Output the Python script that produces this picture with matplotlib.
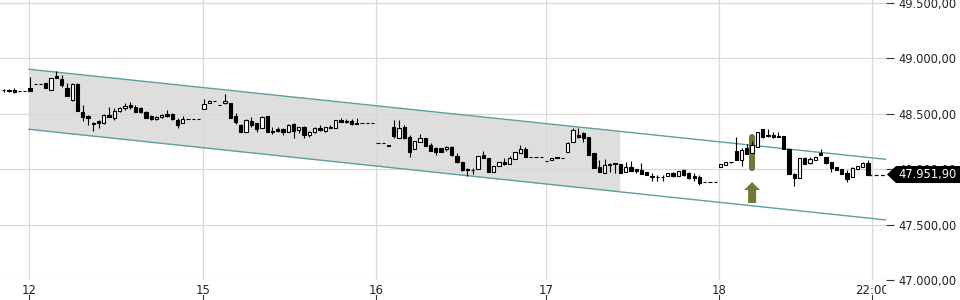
import matplotlib
matplotlib.use("Agg")
import matplotlib.pyplot as plt
import numpy as np
from matplotlib.patches import Polygon
from matplotlib import transforms

# ---------------- data ----------------
first_index = -5
opens = [
    48716, 48715, 48712, 48709, 48709,
    48730, 48769, 48769, 48775, 48712, 48841, 48811, 48736, 48625, 48769,
    48514, 48480, 48413, 48438, 48414, 48489, 48459, 48528, 48550, 48579,
    48564, 48550, 48519, 48480, 48453, 48468, 48495, 48498, 48447, 48414,
    48453, 48453, 48453, 48541, 48600, 48613, 48582, 48595, 48600, 48480,
    48399, 48338, 48435, 48414, 48369, 48480, 48347, 48360, 48360, 48338,
    48405, 48354, 48384, 48309, 48333, 48369, 48347, 48384, 48369, 48444,
    48438, 48435, 48420, 48414, 48414, 48414, 48239, 48239, 48218, 48384,
    48284, 48384, 48293, 48180, 48243, 48279, 48218, 48194, 48188, 48180,
    48203, 48122, 48062, 47999, 47997, 48002, 48128, 48098, 47972, 48032,
    48068, 48044, 48092, 48143, 48182, 48107, 48107, 48107, 48077, 48083,
    48107, 48098, 48158, 48243, 48309, 48324, 48293, 48149, 48023, 47968,
    48047, 48053, 48044, 47972, 48023, 48002, 47993, 47972, 47939, 47929,
    47931, 47941, 47963, 47941, 47993, 47963, 47939, 47927, 47887, 47887,
    47887, 48023, 48038, 48068, 48164, 48083, 48188, 48143, 48203, 48360,
    48309, 48309, 48300, 48300, 48180, 47954, 47918, 48098, 48059, 48083,
    48143, 48113, 48062, 48017, 48000, 47963, 47927, 48000, 48023, 48059,
]
highs = [
    48728, 48724, 48730, 48709, 48709,
    48835, 48769, 48769, 48775, 48826, 48886, 48850, 48775, 48775, 48775,
    48579, 48489, 48423, 48444, 48495, 48564, 48550, 48559, 48600, 48604,
    48579, 48564, 48525, 48489, 48480, 48498, 48534, 48504, 48459, 48483,
    48453, 48453, 48453, 48634, 48627, 48613, 48582, 48676, 48600, 48504,
    48405, 48450, 48474, 48420, 48483, 48480, 48384, 48384, 48375, 48405,
    48414, 48384, 48393, 48345, 48384, 48399, 48384, 48399, 48444, 48459,
    48450, 48450, 48459, 48414, 48414, 48414, 48239, 48239, 48218, 48444,
    48444, 48399, 48309, 48255, 48315, 48279, 48234, 48203, 48191, 48212,
    48209, 48143, 48068, 48014, 48014, 48119, 48164, 48098, 48032, 48068,
    48104, 48119, 48152, 48218, 48200, 48107, 48107, 48107, 48077, 48101,
    48107, 48098, 48248, 48369, 48375, 48338, 48293, 48149, 48083, 48089,
    48059, 48059, 48044, 48068, 48077, 48002, 48059, 47972, 47963, 47948,
    47948, 47963, 47977, 47986, 47999, 47977, 47963, 47948, 47887, 47887,
    47887, 48047, 48068, 48068, 48290, 48188, 48225, 48250, 48338, 48360,
    48360, 48338, 48338, 48300, 48180, 47963, 48098, 48113, 48107, 48113,
    48180, 48113, 48068, 48017, 48000, 47993, 48023, 48029, 48068, 48083,
]
lows = [
    48701, 48699, 48685, 48709, 48709,
    48709, 48769, 48769, 48730, 48712, 48820, 48745, 48663, 48618, 48525,
    48435, 48399, 48345, 48369, 48411, 48468, 48444, 48519, 48534, 48543,
    48514, 48504, 48462, 48444, 48447, 48462, 48468, 48444, 48375, 48414,
    48453, 48453, 48453, 48541, 48595, 48613, 48576, 48588, 48465, 48405,
    48333, 48338, 48384, 48338, 48369, 48338, 48315, 48338, 48309, 48338,
    48284, 48324, 48284, 48293, 48330, 48347, 48338, 48369, 48369, 48423,
    48414, 48399, 48405, 48414, 48414, 48414, 48239, 48239, 48212, 48279,
    48284, 48273, 48113, 48180, 48243, 48209, 48167, 48128, 48155, 48167,
    48122, 48053, 47986, 47941, 47954, 48002, 48098, 47972, 47972, 48032,
    48038, 48044, 48092, 48143, 48113, 48107, 48107, 48107, 48077, 48083,
    48101, 48098, 48158, 48243, 48279, 48248, 48128, 48008, 47972, 47968,
    47977, 47968, 47968, 47972, 47986, 47963, 47957, 47948, 47893, 47893,
    47893, 47941, 47932, 47941, 47941, 47909, 47893, 47857, 47887, 47887,
    47887, 48023, 48038, 48059, 48083, 48029, 48134, 48143, 48203, 48279,
    48293, 48279, 48288, 48180, 47954, 47848, 47918, 48044, 48044, 48083,
    48128, 48047, 47972, 47993, 47954, 47887, 47927, 48000, 48023, 47952,
]
closes = [
    48713, 48709, 48699, 48709, 48709,
    48709, 48769, 48769, 48730, 48820, 48820, 48760, 48663, 48769, 48525,
    48474, 48459, 48410, 48414, 48489, 48468, 48528, 48550, 48573, 48561,
    48514, 48514, 48465, 48450, 48474, 48489, 48480, 48450, 48399, 48450,
    48453, 48453, 48453, 48586, 48618, 48613, 48576, 48618, 48465, 48429,
    48338, 48444, 48399, 48360, 48474, 48338, 48333, 48347, 48338, 48399,
    48347, 48384, 48309, 48338, 48369, 48354, 48378, 48369, 48444, 48423,
    48423, 48405, 48405, 48414, 48414, 48414, 48239, 48239, 48212, 48302,
    48375, 48279, 48158, 48255, 48279, 48212, 48167, 48158, 48158, 48203,
    48128, 48062, 47993, 47993, 47997, 48119, 48098, 47972, 48032, 48068,
    48044, 48098, 48152, 48182, 48113, 48107, 48107, 48107, 48077, 48101,
    48101, 48098, 48234, 48354, 48293, 48279, 48128, 48008, 47972, 48038,
    48038, 48044, 47968, 48023, 47986, 47986, 47957, 47948, 47927, 47929,
    47931, 47963, 47941, 47986, 47948, 47918, 47923, 47873, 47887, 47887,
    47887, 48047, 48068, 48062, 48083, 48173, 48134, 48218, 48338, 48293,
    48300, 48293, 48288, 48180, 47954, 47918, 48098, 48047, 48089, 48113,
    48128, 48053, 48014, 47993, 47954, 47909, 48008, 48029, 48053, 47951.9,
]

day_labels = ["12", "15", "16", "17", "18", "22:00"]
day_positions = [-0.2, 32.8, 65.6, 97.9, 130.7, 159.7]
y_ticks = [47000, 47500, 48000, 48500, 49000, 49500]

channel_x = [-0.2, 162.4]
channel_upper = [48902, 48089]
channel_lower = [48360, 47542]
channel_fill_end = 111.9

signal_index = 137
signal_top = 48291
signal_bottom = 48011
arrow_tip = 47884
arrow_base = 47695
last_price = 47951.9

# ---------------- figure ----------------
W, H = 960, 300
fig = plt.figure(figsize=(W / 100, H / 100), dpi=100)
ax = fig.add_axes([0, 20 / H, 886 / W, 280 / H])
ax.set_xlim(-5.69, 162.4)
ax.set_ylim(47000, 49527)
for s in ax.spines.values():
    s.set_visible(False)

grid_c = "#d8d8d8"
for p in day_positions:
    ax.axvline(p, color=grid_c, lw=0.9, zorder=1)
for v in y_ticks:
    ax.axhline(v, color=grid_c, lw=0.9, zorder=1)

# channel
fx = np.linspace(channel_x[0], channel_fill_end, 50)
fu = np.interp(fx, channel_x, channel_upper)
fl = np.interp(fx, channel_x, channel_lower)
ax.fill_between(fx, fl, fu, color="#dedede", lw=0, zorder=0.5)
teal = "#5b9fa1"
ax.plot(channel_x, channel_upper, color=teal, lw=1, zorder=2)
ax.plot(channel_x, channel_lower, color=teal, lw=1, zorder=2)

# signal marker
green = "#6b7b3a"
ax.plot([signal_index, signal_index], [signal_bottom, signal_top], color=green,
        lw=4.4, solid_capstyle="round", zorder=2.5)
ppx = (49527 - 47000) / 280.0
xpx = 1 / 5.272
head_y = arrow_tip - 8 * ppx
arrow = Polygon([
    (signal_index, arrow_tip),
    (signal_index + 8 * xpx, head_y),
    (signal_index + 4 * xpx, head_y),
    (signal_index + 4 * xpx, arrow_base),
    (signal_index - 4 * xpx, arrow_base),
    (signal_index - 4 * xpx, head_y),
    (signal_index - 8 * xpx, head_y),
], closed=True, facecolor=green, edgecolor="none", zorder=2.5)
ax.add_patch(arrow)

# candles
o = np.array(opens, float)
h = np.array(highs, float)
l = np.array(lows, float)
c = np.array(closes, float)
x = np.arange(first_index, first_index + len(o))
ax.vlines(x, l, h, color="black", lw=0.8, zorder=3)
up = c > o
bottoms = np.minimum(o, c)
heights = np.abs(c - o)
ax.bar(x[up], heights[up], bottom=bottoms[up], width=0.62, color="white",
       edgecolor="black", linewidth=0.8, zorder=4)
ax.bar(x[~up], heights[~up], bottom=bottoms[~up], width=0.62, color="black",
       edgecolor="black", linewidth=0.8, zorder=4)

# last price line
ax.plot([x[-1], 162.4], [last_price, last_price], color="black", lw=0.9,
        dashes=(3, 2), zorder=3)

# axes ticks
def de_fmt(v, pos=None):
    s = f"{v:,.2f}"
    return s.replace(",", "X").replace(".", ",").replace("X", ".")

ax.yaxis.tick_right()
ax.set_yticks(y_ticks)
ax.yaxis.set_major_formatter(plt.FuncFormatter(de_fmt))
ax.tick_params(axis="y", length=6, width=0.8, color="#333333", pad=3,
               labelsize=8.3, labelcolor="#222222")
ax.set_xticks(day_positions)
ax.set_xticklabels(day_labels)
ax.tick_params(axis="x", length=0, pad=3, labelsize=8.5, labelcolor="#222222")
clipbox = transforms.TransformedBbox(transforms.Bbox([[0, -1], [1, 1]]), ax.transAxes)
for lbl in ax.get_xticklabels():
    lbl.set_clip_box(clipbox)
    lbl.set_clip_on(True)

bt = transforms.blended_transform_factory(ax.transData, ax.transAxes)
for p in day_positions:
    ax.plot([p, p], [-0.055, -0.07], transform=bt, clip_on=False,
            color="#333333", lw=0.8)

# price label box
yd = ax.transData.transform((0, last_price))[1]
inv = fig.transFigure.inverted()
pts = [(887, yd), (896, yd + 8.5), (960, yd + 8.5), (960, yd - 8.5), (896, yd - 8.5)]
pts = [inv.transform(p) for p in pts]
fig.patches.append(Polygon(pts, closed=True, facecolor="black", edgecolor="none",
                           transform=fig.transFigure, figure=fig))
tx, ty = inv.transform((898, yd))
fig.text(tx, ty, de_fmt(last_price), color="white", fontsize=8.3,
         va="center", ha="left")

fig.savefig("out.png", dpi=100)
